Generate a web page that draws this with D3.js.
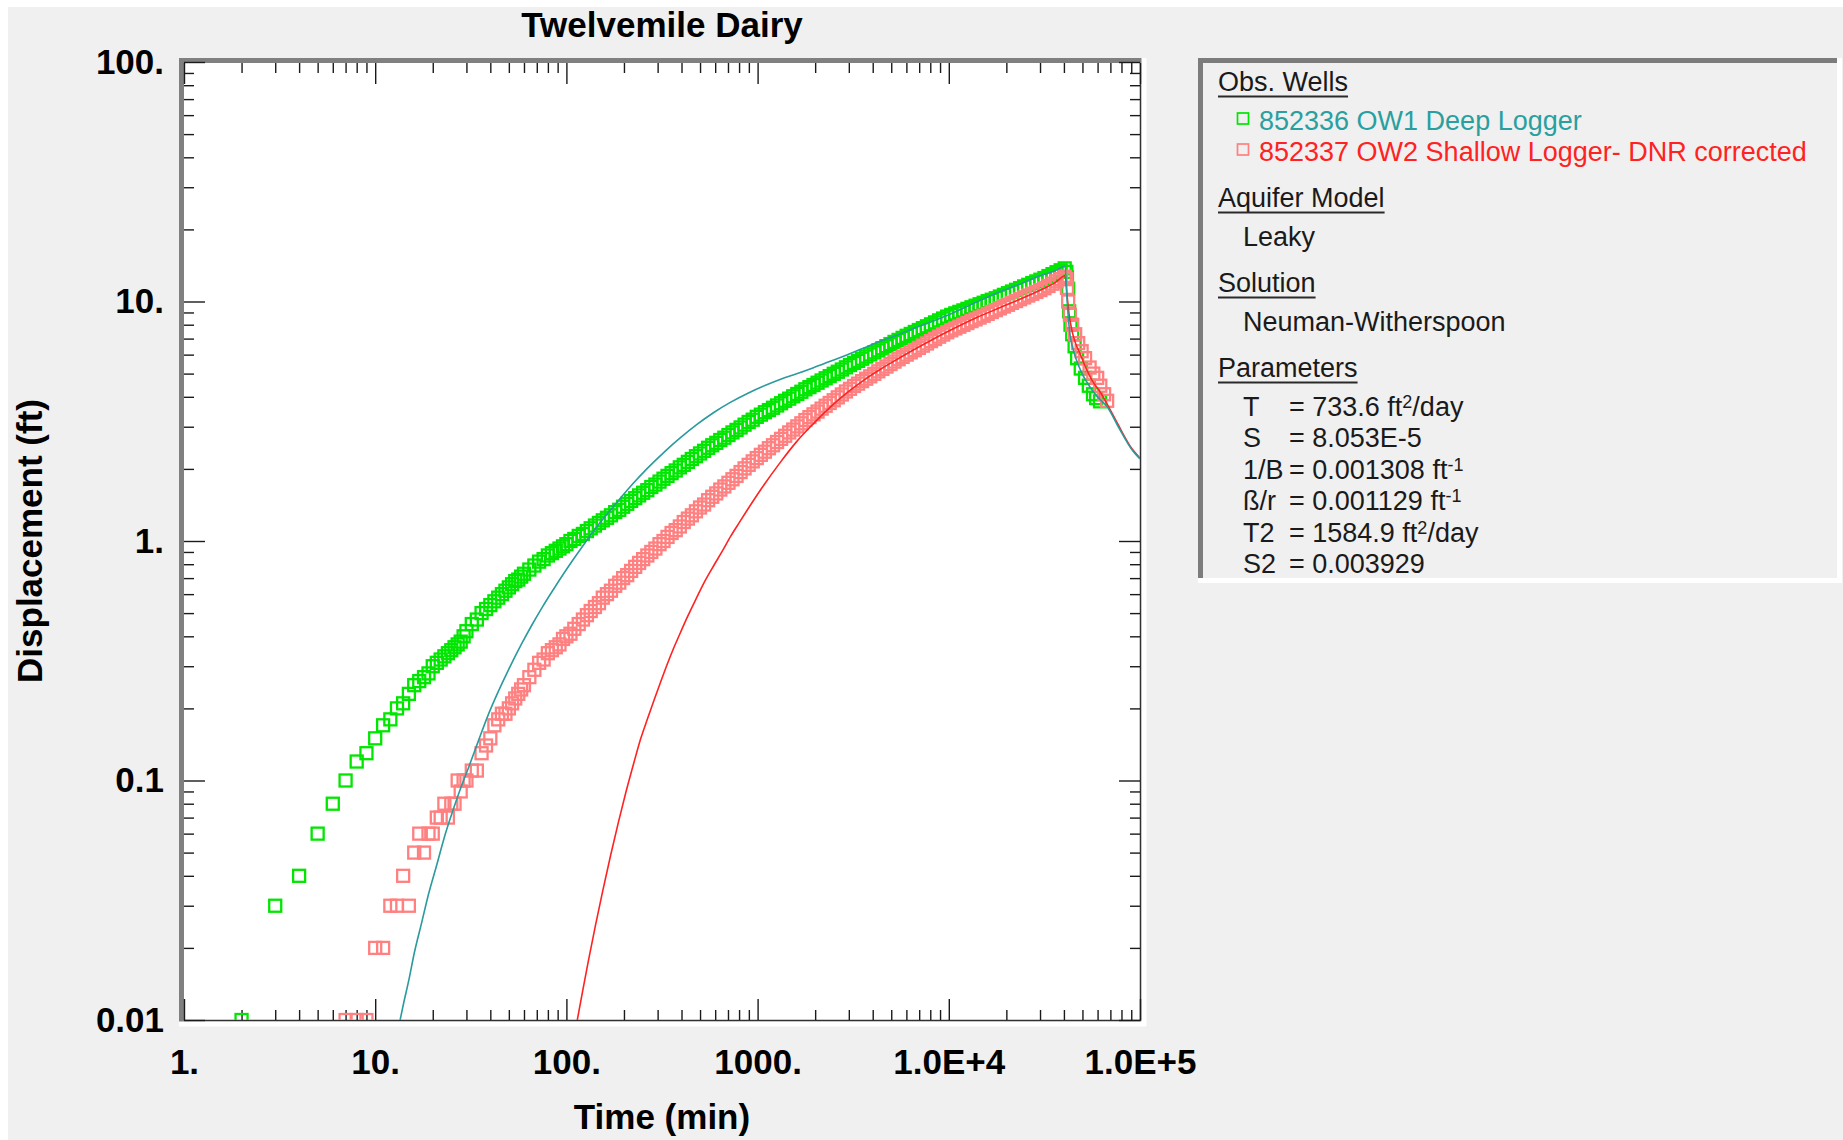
<!DOCTYPE html>
<html>
<head>
<meta charset="UTF-8">
<title>Twelvemile Dairy</title>
<script src="https://d3js.org/d3.v7.min.js"></script>
<style>
  body { margin: 0; background: #f0f0f0; }
  svg { display: block; }
  text { font-family: "Liberation Sans", Arial, sans-serif; }
</style>
</head>
<body>
<div id="chart"></div>
<script>
// ---- axis ticks
var xTickValues = [1, 10, 100, 1000, 1e4, 1e5];
var xTickLabels = ["1.", "10.", "100.", "1000.", "1.0E+4", "1.0E+5"];
var yTickValues = [0.01, 0.1, 1, 10, 100];
var yTickLabels = ["0.01", "0.1", "1.", "10.", "100."];

// ---- observed data, OW1 (deep) and OW2 (shallow), time in min, displacement in ft
var ow1EarlyTime = [2,3,4,5,6,7,8,9,10,11,12,13,14,15,16,17,18,19,20,21,22,23,24,25,26,27,28,29,30,32,34,36,38,40];
var ow1EarlyDisp = [0.01,0.03,0.04,0.06,0.08,0.10,0.12,0.13,0.15,0.17,0.18,0.20,0.21,0.23,0.25,0.26,0.27,0.28,0.30,0.31,0.32,0.33,0.34,0.35,0.36,0.37,0.38,0.40,0.42,0.45,0.47,0.50,0.52,0.54];

var ow2EarlyTime = [7,8,9,10,11,12,13,14,15,16,17,18,19,20,21,22,23,24,25,26,27,28,29,30,32,34,36,38,40];
var ow2EarlyDisp = [0.01,0.01,0.01,0.02,0.02,0.03,0.03,0.04,0.03,0.05,0.06,0.05,0.06,0.06,0.07,0.07,0.08,0.07,0.08,0.08,0.10,0.09,0.10,0.10,0.11,0.11,0.13,0.14,0.15];

// common logging times during pumping
var pumpTime = [42,44,46,48,50,52,54,56,58,60,64,68,72,76,80,84,88,92,96,100,
  105,110,116,122,128,134,141,148,155,163,171,180,189,198,208,218,229,240,252,265,
  278,292,307,322,338,355,373,392,411,432,453,476,500,525,551,579,608,638,670,704,
  739,776,815,855,898,943,990,1040,1092,1146,1204,1264,1327,1393,1463,1536,1613,1694,1778,1867,
  1961,2059,2162,2270,2383,2502,2627,2759,2897,3042,3194,3353,3521,3697,3882,4076,4280,4494,4719,4955,
  5202,5463,5736,6023,6324,6640,6972,7321,7687,8071,8475,8898,9343,9810,10300,10815,11356,11924,12520,13146,
  13804,14494,15219,15980,16779,17618,18498,19423,20395,21414,22485,23610,24790,26030,27331,28698,30133,31639,33221,34883,
  36627,38458,40381];
var ow1PumpDisp = [0.56,0.58,0.60,0.62,0.64,0.66,0.68,0.69,0.71,0.73,0.76,0.79,0.82,0.84,0.87,0.89,0.91,0.93,0.95,0.97,
  1.00,1.02,1.05,1.07,1.10,1.13,1.16,1.19,1.22,1.25,1.28,1.32,1.35,1.39,1.43,1.47,1.51,1.55,1.59,1.63,
  1.68,1.72,1.77,1.82,1.87,1.92,1.97,2.03,2.08,2.14,2.20,2.26,2.32,2.38,2.45,2.51,2.57,2.64,2.70,2.77,
  2.84,2.91,2.98,3.06,3.14,3.21,3.30,3.37,3.45,3.52,3.60,3.68,3.76,3.85,3.93,4.02,4.11,4.20,4.30,4.39,
  4.48,4.58,4.68,4.78,4.88,4.99,5.09,5.20,5.31,5.43,5.54,5.65,5.77,5.89,6.01,6.13,6.25,6.38,6.51,6.64,
  6.78,6.91,7.05,7.19,7.32,7.46,7.60,7.74,7.88,8.03,8.18,8.34,8.49,8.65,8.79,8.92,9.05,9.18,9.32,9.46,
  9.60,9.74,9.88,10.03,10.17,10.32,10.49,10.66,10.83,11.01,11.19,11.37,11.56,11.74,11.94,12.13,12.33,12.53,12.77,13.01,
  13.25,13.50,13.75];
var ow2PumpDisp = [0.17,0.18,0.19,0.19,0.20,0.21,0.22,0.23,0.24,0.25,0.27,0.29,0.31,0.32,0.34,0.35,0.36,0.37,0.39,0.40,
  0.41,0.43,0.45,0.47,0.49,0.51,0.53,0.55,0.58,0.60,0.62,0.65,0.67,0.70,0.72,0.75,0.78,0.81,0.84,0.87,
  0.90,0.93,0.97,1.00,1.04,1.08,1.11,1.15,1.20,1.24,1.28,1.33,1.38,1.42,1.48,1.53,1.58,1.64,1.69,1.75,
  1.81,1.87,1.94,2.01,2.08,2.15,2.22,2.29,2.36,2.44,2.51,2.59,2.67,2.75,2.84,2.92,3.01,3.10,3.20,3.29,
  3.38,3.47,3.57,3.67,3.77,3.87,3.98,4.09,4.21,4.32,4.44,4.54,4.65,4.76,4.87,4.99,5.11,5.23,5.35,5.48,
  5.61,5.74,5.87,6.00,6.13,6.26,6.40,6.54,6.68,6.83,6.97,7.13,7.28,7.44,7.58,7.72,7.85,7.99,8.13,8.28,
  8.42,8.57,8.72,8.88,9.04,9.20,9.36,9.53,9.69,9.87,10.04,10.22,10.40,10.59,10.77,10.96,11.16,11.36,11.61,11.87,
  12.14,12.41,12.69];

// recovery after the pump was shut off
var ow1RecTime = [41200,41500,42100,42600,43300,44200,45500,46900,49000,51600,54000,56800,59000,61800];
var ow1RecDisp = [13.3,12.6,11.3,9.1,8.0,7.3,6.5,5.8,5.25,4.8,4.45,4.1,3.95,3.83];
var ow2RecTime = [41200,41500,42100,43000,44200,45800,47500,49500,51600,54500,57000,59700,62000,64900,67300];
var ow2RecDisp = [12.4,11.4,10.0,8.8,8.0,7.3,6.7,6.2,5.8,5.3,5.0,4.8,4.45,4.1,3.85];

// ---- Neuman-Witherspoon fitted curves
var fit1Time = [13.5,14,15,16,17.5,19,21,23,25.5,28,31,34.5,39,44,50,58,66,75,87,100,120,146,177,225,265,330,395,480,590,720,890,1100,1320,1600,1960,2400,2950,3600,4370,5400,6520,8000,10000,11500,14000,18600,24000,30000,36000,40600,41600,43000,44500,46900,49500,52800,57000,61800,67100,77000,91000,100000];
var fit1Disp = [0.010,0.0115,0.0147,0.019,0.0255,0.0335,0.0445,0.058,0.075,0.093,0.115,0.145,0.188,0.235,0.292,0.369,0.446,0.531,0.641,0.760,0.937,1.16,1.40,1.75,2.01,2.38,2.70,3.06,3.44,3.79,4.14,4.47,4.74,4.99,5.29,5.63,6.0,6.4,6.82,7.25,7.72,8.2,8.8,9.26,9.95,11.0,11.9,12.8,13.45,14.0,10.0,7.3,6.4,5.6,5.05,4.6,4.2,3.9,3.65,3.0,2.4,2.2];
var fit2Time = [114,122,130,142,155,170,187,205,225,245,265,290,310,338,365,395,430,480,530,590,650,725,800,890,1050,1320,1600,1960,2400,2950,3600,4370,5400,6520,8000,10000,11500,14000,18600,24000,30000,36000,40600,41600,42600,44000,46000,48400,52000,56000,61800,67100,77000,91000,100000];
var fit2Disp = [0.010,0.0134,0.0175,0.0249,0.0347,0.0484,0.0669,0.0897,0.118,0.150,0.180,0.221,0.256,0.308,0.359,0.415,0.483,0.58,0.68,0.79,0.90,1.05,1.19,1.36,1.66,2.14,2.60,3.09,3.62,4.17,4.70,5.20,5.75,6.27,6.86,7.53,7.96,8.57,9.44,10.29,11.15,11.99,12.8,10.5,8.8,7.6,6.7,6.1,5.3,4.7,4.2,3.75,3.05,2.42,2.22];

// ---- legend text
var wellNames = ["852336 OW1 Deep Logger", "852337 OW2 Shallow Logger- DNR corrected"];
var paramNames = ["T", "S", "1/B", "\u00df/r", "T2", "S2"];
var paramValues = ["= 733.6 ft", "= 8.053E-5", "= 0.001308 ft", "= 0.001129 ft", "= 1584.9 ft", "= 0.003929"];
var paramSup = ["2", "", "-1", "-1", "2", ""];
var paramTail = ["/day", "", "", "", "/day", ""];

var W = 1843, H = 1140;
var plot = {left: 184, right: 1140, top: 63, bottom: 1020};
var green = "#00e600", pink = "#ff8080", teal = "#2a9a9c", red = "#ff2222";

var svg = d3.select("#chart").append("svg").attr("width", W).attr("height", H);
svg.append("rect").attr("width", W).attr("height", H).attr("fill", "#f0f0f0");
svg.append("rect").attr("width", W).attr("height", 7).attr("fill", "#ffffff");
svg.append("rect").attr("width", 8).attr("height", H).attr("fill", "#ffffff");

var x = d3.scaleLog().domain([1, 1e5]).range([plot.left, plot.right]);
var y = d3.scaleLog().domain([0.01, 100]).range([plot.bottom, plot.top - 1]);

// plot frame
svg.append("rect").attr("x", plot.left).attr("y", plot.top)
    .attr("width", plot.right - plot.left).attr("height", plot.bottom - plot.top).attr("fill", "#fff");
svg.append("rect").attr("x", 179).attr("y", 58).attr("width", 5).attr("height", 968).attr("fill", "#808080");
svg.append("rect").attr("x", 179).attr("y", 58).attr("width", 967).attr("height", 5).attr("fill", "#808080");
svg.append("rect").attr("x", 1141.5).attr("y", 58).attr("width", 5).attr("height", 968).attr("fill", "#fff");
svg.append("rect").attr("x", 179).attr("y", 1021.5).attr("width", 967).attr("height", 5).attr("fill", "#fff");
svg.append("path").attr("d", `M${plot.left},${plot.bottom + 0.5}H${plot.right + 0.5}V${plot.top}`)
    .attr("fill", "none").attr("stroke", "#303030").attr("stroke-width", 1.5);

// minor ticks at 2..9 of every decade
var xMinor = [], yMinor = [];
for (var d = 1; d < 1e5; d *= 10) for (var m = 2; m <= 9; m++) xMinor.push(d * m);
for (var d2 = 0.01; d2 < 99; d2 *= 10) for (var m2 = 2; m2 <= 9; m2++) yMinor.push(d2 * m2);

function styleAxis(g) {
    g.select(".domain").remove();
    g.selectAll(".tick line").attr("stroke", "#1a1a1a").attr("stroke-width", 1.4);
    g.selectAll(".tick text").attr("fill", "#000");
    g.attr("font-size", 35).attr("font-weight", "bold")
     .attr("font-family", "'Liberation Sans', Arial, sans-serif");
}

svg.append("g").attr("transform", `translate(0,${plot.bottom})`)
    .call(d3.axisBottom(x).tickValues(xTickValues).tickFormat((v, i) => xTickLabels[i])
        .tickSizeInner(-21).tickSizeOuter(0).tickPadding(29)).call(styleAxis);
svg.append("g").attr("transform", `translate(0,${plot.bottom})`)
    .call(d3.axisBottom(x).tickValues(xMinor).tickFormat("").tickSize(-10)).call(styleAxis);
svg.append("g").attr("transform", `translate(0,${plot.top})`)
    .call(d3.axisTop(x).tickValues(xTickValues).tickFormat("").tickSize(-21)).call(styleAxis);
svg.append("g").attr("transform", `translate(0,${plot.top})`)
    .call(d3.axisTop(x).tickValues(xMinor).tickFormat("").tickSize(-10)).call(styleAxis);
svg.append("g").attr("transform", `translate(${plot.left},0)`)
    .call(d3.axisLeft(y).tickValues(yTickValues).tickFormat((v, i) => yTickLabels[i])
        .tickSizeInner(-21).tickSizeOuter(0).tickPadding(20)).call(styleAxis);
svg.append("g").attr("transform", `translate(${plot.left},0)`)
    .call(d3.axisLeft(y).tickValues(yMinor).tickFormat("").tickSize(-10)).call(styleAxis);
svg.append("g").attr("transform", `translate(${plot.right},0)`)
    .call(d3.axisRight(y).tickValues(yTickValues).tickFormat("").tickSize(-21)).call(styleAxis);
svg.append("g").attr("transform", `translate(${plot.right},0)`)
    .call(d3.axisRight(y).tickValues(yMinor).tickFormat("").tickSize(-10)).call(styleAxis);

// titles
svg.append("text").attr("x", 662).attr("y", 37).attr("text-anchor", "middle")
    .attr("font-size", 35).attr("font-weight", "bold").text("Twelvemile Dairy");
svg.append("text").attr("x", 662).attr("y", 1129).attr("text-anchor", "middle")
    .attr("font-size", 35).attr("font-weight", "bold").text("Time (min)");
svg.append("text").attr("transform", "translate(42,541) rotate(-90)").attr("text-anchor", "middle")
    .attr("font-size", 35).attr("font-weight", "bold").text("Displacement (ft)");

// data
svg.append("clipPath").attr("id", "clip").append("rect")
    .attr("x", plot.left).attr("y", plot.top)
    .attr("width", plot.right - plot.left).attr("height", plot.bottom - plot.top);
var gData = svg.append("g").attr("clip-path", "url(#clip)");

function squares(times, disps, color) {
    gData.append("g").selectAll("rect")
        .data(d3.zip(times, disps)).enter().append("rect")
        .attr("x", p => x(p[0]) - 6).attr("y", p => y(p[1]) - 6)
        .attr("width", 12).attr("height", 12)
        .attr("fill", "none").attr("stroke", color).attr("stroke-width", 2.3);
}
squares(ow1EarlyTime, ow1EarlyDisp, green);
squares(pumpTime, ow1PumpDisp, green);
squares(ow1RecTime, ow1RecDisp, green);
squares(ow2EarlyTime, ow2EarlyDisp, pink);
squares(pumpTime, ow2PumpDisp, pink);
squares(ow2RecTime, ow2RecDisp, pink);

var line = d3.line().x(p => x(p[0])).y(p => y(p[1])).curve(d3.curveMonotoneX);
gData.append("path").datum(d3.zip(fit2Time, fit2Disp)).attr("d", line)
    .attr("fill", "none").attr("stroke", red).attr("stroke-width", 1.6);
gData.append("path").datum(d3.zip(fit1Time, fit1Disp)).attr("d", line)
    .attr("fill", "none").attr("stroke", teal).attr("stroke-width", 1.6);

// legend box
var lg = svg.append("g").attr("font-size", 27).attr("fill", "#1a1a1a");
lg.append("rect").attr("x", 1198).attr("y", 58).attr("width", 644).attr("height", 525).attr("fill", "#fff");
lg.append("rect").attr("x", 1198).attr("y", 58).attr("width", 639).attr("height", 520).attr("fill", "#7c7c7c");
lg.append("rect").attr("x", 1203).attr("y", 63).attr("width", 634).attr("height", 515).attr("fill", "#f0f0f0");

function header(txt, yb) {
    var t = lg.append("text").attr("x", 1218).attr("y", yb).text(txt);
    var w = t.node().getComputedTextLength();
    lg.append("line").attr("x1", 1218).attr("x2", 1218 + w)
        .attr("y1", yb + 5.5).attr("y2", yb + 5.5).attr("stroke", "#2a2a2a").attr("stroke-width", 2);
}
header("Obs. Wells", 91);
header("Aquifer Model", 207);
header("Solution", 292);
header("Parameters", 377);

var wellColors = [green, pink], wellText = ["#2a9fa0", red], wellBase = [129.5, 160.5];
wellNames.forEach(function(name, i) {
    lg.append("rect").attr("x", 1237.5).attr("y", wellBase[i] - 16.5).attr("width", 11).attr("height", 11)
        .attr("fill", "none").attr("stroke", wellColors[i]).attr("stroke-width", 1.7);
    lg.append("text").attr("x", 1259).attr("y", wellBase[i]).attr("fill", wellText[i]).text(name);
});
lg.append("text").attr("x", 1243).attr("y", 246).text("Leaky");
lg.append("text").attr("x", 1243).attr("y", 331).text("Neuman-Witherspoon");

paramNames.forEach(function(name, i) {
    var yb = 416 + i * 31.4;
    lg.append("text").attr("x", 1243).attr("y", yb).text(name);
    var t = lg.append("text").attr("x", 1289).attr("y", yb);
    t.append("tspan").text(paramValues[i]);
    if (paramSup[i]) {
        t.append("tspan").attr("font-size", 18).attr("dy", -8).text(paramSup[i]);
        t.append("tspan").attr("dy", 8).text(paramTail[i]);
    }
});
</script>
</body>
</html>
